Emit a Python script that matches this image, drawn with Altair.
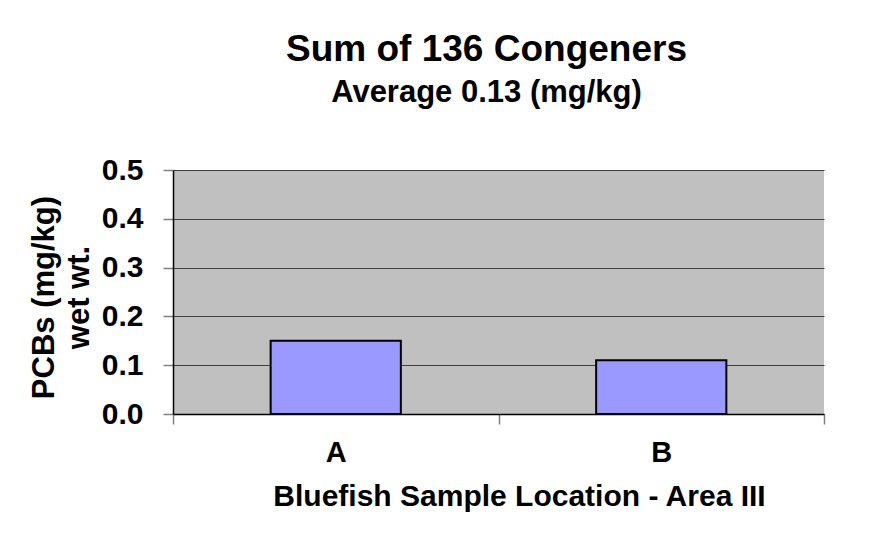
import altair as alt
import pandas as pd

locations = ["A", "B"]
pcbs = [0.15, 0.11]
y_ticks = [0.0, 0.1, 0.2, 0.3, 0.4, 0.5]

df = pd.DataFrame({"Location": locations, "PCBs": pcbs})

FONT = "Liberation Sans"

chart = alt.Chart(df).mark_bar(
    color="#9999ff", stroke="#000000", strokeWidth=2,
    width=alt.RelativeBandSize(0.4),
).encode(
    x=alt.X(
        "Location:N",
        sort=locations,
        scale=alt.Scale(paddingInner=0, paddingOuter=0),
        axis=alt.Axis(
            title="Bluefish Sample Location - Area III",
            labelAngle=0,
            labelFont=FONT, labelFontSize=29, labelFontWeight="bold", labelColor="#000000",
            labelPadding=14,
            tickBand="extent", tickSize=10, tickColor="#808080", tickWidth=1.5,
            domainColor="#000000", domainWidth=1.5,
            titleFont=FONT, titleFontSize=30, titleFontWeight="bold", titleColor="#000000",
            titleX=346, titleY=91, titleBaseline="alphabetic", titleAnchor="middle",
            titleAlign="center",
        ),
    ),
    y=alt.Y(
        "PCBs:Q",
        scale=alt.Scale(domain=[0, 0.5], nice=False, zero=True),
        axis=alt.Axis(
            title=["PCBs (mg/kg)", "wet wt."],
            values=y_ticks, format=".1f",
            labelFont=FONT, labelFontSize=30, labelFontWeight="bold", labelColor="#000000",
            labelPadding=20,
            tickSize=10, tickColor="#808080", tickWidth=1.5,
            grid=True, gridColor="#404040", gridWidth=1,
            domainColor="#000000", domainWidth=1.5,
            titleFont=FONT, titleFontSize=31, titleFontWeight="bold", titleColor="#000000",
            titleX=-113, titleY=127, titleLineHeight=35, titleAlign="center",
            titleBaseline="bottom",
        ),
    ),
).properties(
    width=651,
    height=244,
    title=alt.TitleParams(
        text="Sum of 136 Congeners",
        subtitle="Average 0.13 (mg/kg)",
        font=FONT, fontSize=37, fontWeight="bold", color="#000000",
        subtitleFont=FONT, subtitleFontSize=31, subtitleFontWeight="bold", subtitleColor="#000000",
        subtitlePadding=9,
        anchor="middle", frame="group", dx=-12, offset=46,
    ),
    padding={"left": 165, "top": 162, "right": 41, "bottom": 133},
    autosize=alt.AutoSizeParams(type="none"),
).configure(
    background="#ffffff",
    view=alt.ViewConfig(fill="#c0c0c0", stroke=None),
)

chart.save("out.html", embed_options={"renderer": "svg", "actions": False})
